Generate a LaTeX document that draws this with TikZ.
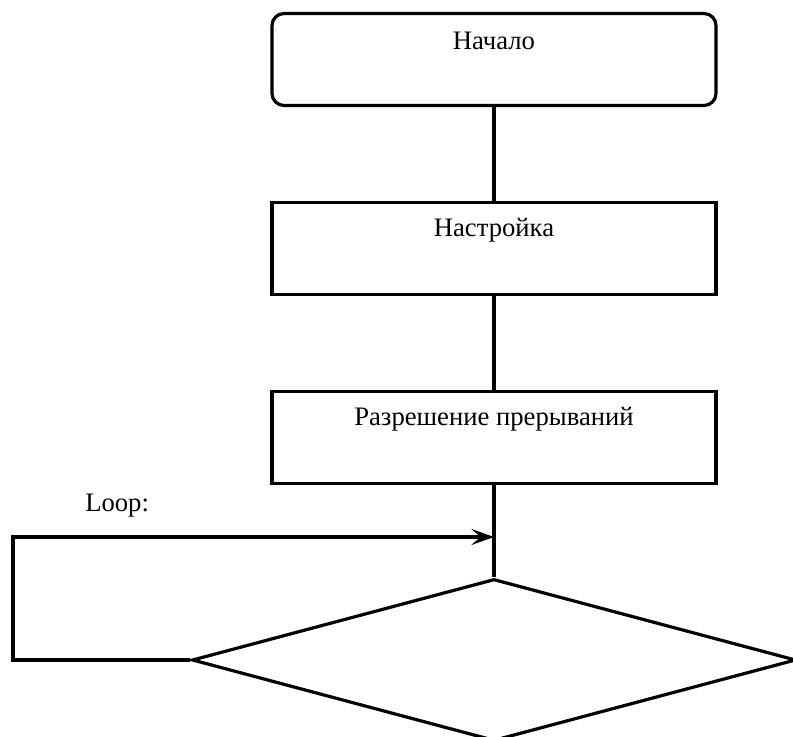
\documentclass[tikz,border=0pt]{standalone}
\usepackage{fontspec}
\setmainfont{Liberation Serif}
\usetikzlibrary{shapes.geometric, arrows.meta}

\begin{document}
\begin{tikzpicture}[x=0.75pt, y=-0.75pt,
        every node/.style={font=\fontsize{20}{23}\selectfont},
        block/.style={draw, line width=2.4pt, minimum width=333pt,
            minimum height=69pt, inner sep=0pt},
        caption/.style={anchor=base, inner sep=0pt},
        link/.style={line width=2.4pt}]
      \useasboundingbox (0,0) rectangle (793,737);
      \node[block, rounded corners=9pt] (start) at (494,59.5) {};
      \node[caption] (startlbl) at ([yshift=-28.5pt]start.north) {Начало};
      \node[block] (setup) at (494,248.5) {};
      \node[caption] (setuplbl) at ([yshift=-26.5pt]setup.north) {Настройка};
      \node[block] (irq) at (494,437.5) {};
      \node[caption] (irqlbl) at ([yshift=-27pt]irq.north) {Разрешение прерываний};
      \node[draw, shape=diamond, line width=2.4pt, inner sep=0pt,
            minimum width=453pt, minimum height=121.5pt] (check) at (494,660) {};
      \node[anchor=base west, inner sep=0pt] (looplbl) at (85,512) {Loop:};
      \coordinate (corner) at (13,537);
      \coordinate (joint) at (494,537);
      \draw[link] (start) -- (setup);
      \draw[link] (setup) -- (irq);
      \draw[link] (irq) -- (check);
      \draw[link, -{Stealth[length=17pt, width=12pt, inset=7pt]}]
            (check.west) -| (corner) -- (joint);
    \end{tikzpicture}
\end{document}
